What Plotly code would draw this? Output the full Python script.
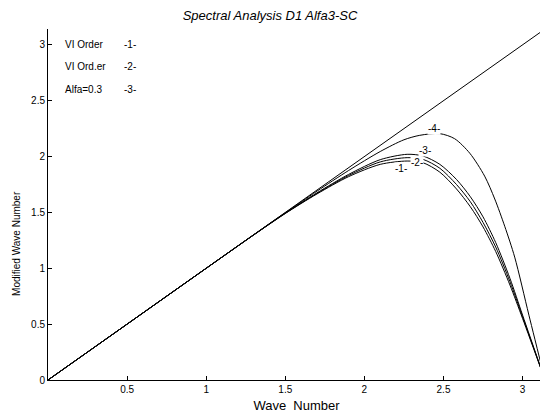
import math
import plotly.graph_objects as go

PI = math.pi

# Exact line
exact_x = [0.0, PI]
exact_y = [0.0, PI]

# Curve -1- (VI Order)
c1_x = [0.0, 0.5, 1.0, 1.3, 1.5, 1.7, 1.9, 2.1, 2.27, 2.37, 2.477, 2.582, 2.67, 2.75, 2.83, 2.92, 3.0, PI]
c1_y = [0.0, 0.5, 1.0, 1.298, 1.49, 1.665, 1.82, 1.93, 1.96, 1.945, 1.86, 1.71, 1.55, 1.37, 1.15, 0.85, 0.55, 0.0]

# Curve -2- (VI Ord.er)
c2_x = [0.0, 0.5, 1.0, 1.3, 1.5, 1.7, 1.9, 2.1, 2.27, 2.37, 2.477, 2.582, 2.67, 2.75, 2.83, 2.92, 3.0, PI]
c2_y = [0.0, 0.5, 1.0, 1.298, 1.492, 1.67, 1.83, 1.952, 1.99, 1.975, 1.895, 1.75, 1.595, 1.41, 1.19, 0.88, 0.565, 0.0]

# Curve -3- (Alfa=0.3)
c3_x = [0.0, 0.5, 1.0, 1.3, 1.5, 1.7, 1.9, 2.1, 2.27, 2.37, 2.477, 2.582, 2.67, 2.75, 2.83, 2.92, 3.0, PI]
c3_y = [0.0, 0.5, 1.0, 1.299, 1.494, 1.675, 1.84, 1.972, 2.02, 2.005, 1.93, 1.795, 1.64, 1.46, 1.23, 0.91, 0.58, 0.0]

# Curve -4-
c4_x = [0.0, 0.5, 1.0, 1.3, 1.5, 1.7, 1.9, 2.1, 2.25, 2.35, 2.476, 2.57, 2.666, 2.76, 2.824, 2.887, 2.95, 3.04, PI]
c4_y = [0.0, 0.5, 1.0, 1.3, 1.497, 1.69, 1.875, 2.045, 2.15, 2.19, 2.205, 2.16, 2.03, 1.825, 1.62, 1.376, 1.1, 0.58, 0.0]

curve_labels = ["-1-", "-2-", "-3-", "-4-"]
label_x = [2.234, 2.333, 2.386, 2.44]
label_y = [1.895, 1.945, 2.058, 2.253]

legend_names = ["VI Order", "VI Ord.er", "Alfa=0.3"]
legend_tags = ["-1-", "-2-", "-3-"]

x_ticks = [0.5, 1, 1.5, 2, 2.5, 3]
y_ticks = [0, 0.5, 1, 1.5, 2, 2.5, 3]

FONT = "Liberation Sans, Arial, sans-serif"

# The page body has an 8px margin, so the figure is sized to fit the 548x414 window.
W, H = 540, 406
ML, MR, MT, MB = 40, 3, 21, 34
PH = H - MT - MB

fig = go.Figure()
fig.add_trace(go.Scatter(x=exact_x, y=exact_y, mode="lines", line=dict(color="black", width=1)))
for xs, ys in [(c1_x, c1_y), (c2_x, c2_y), (c3_x, c3_y), (c4_x, c4_y)]:
    fig.add_trace(go.Scatter(x=xs, y=ys, mode="lines",
                             line=dict(color="black", width=1, shape="spline", smoothing=0.8)))

annotations = []
for t, lx, ly in zip(curve_labels, label_x, label_y):
    annotations.append(dict(x=lx, y=ly, xref="x", yref="y", text=t, showarrow=False,
                            font=dict(size=10, color="black", family=FONT),
                            bgcolor="white", borderpad=0))

leg_y_px = [44.5, 66.5, 89.5]  # page pixels
for name, tag, py in zip(legend_names, legend_tags, leg_y_px):
    yp = 1 - (py - 8 - MT) / PH
    annotations.append(dict(x=0.03, y=yp, xref="paper", yref="paper", text=name,
                            showarrow=False, xanchor="left", yanchor="middle",
                            font=dict(size=10, color="black", family=FONT)))
    annotations.append(dict(x=0.148, y=yp, xref="paper", yref="paper", text=tag,
                            showarrow=False, xanchor="left", yanchor="middle",
                            font=dict(size=10, color="black", family=FONT)))

# y-axis title
annotations.append(dict(x=-0.062, y=1.22, xref="paper", yref="y", text="Modified Wave Number",
                        showarrow=False, textangle=-90, xanchor="center", yanchor="middle",
                        font=dict(size=10, color="black", family=FONT)))

fig.update_layout(
    width=W, height=H,
    margin=dict(l=ML, r=MR, t=MT, b=MB),
    paper_bgcolor="white", plot_bgcolor="white",
    showlegend=False,
    font=dict(family=FONT, size=10, color="black"),
    title=dict(text="<i>Spectral Analysis D1 Alfa3-SC</i>", x=262 / W, xanchor="center",
               y=1 - 7 / H, yanchor="middle", font=dict(size=13, family=FONT, color="black")),
    annotations=annotations,
)

fig.update_xaxes(range=[0, PI], tickvals=x_ticks, ticktext=[str(v) for v in x_ticks],
                 ticks="inside", ticklen=4, tickcolor="black", showline=True, linecolor="black",
                 linewidth=1, showgrid=False, zeroline=False, mirror=False, automargin=False,
                 tickfont=dict(size=10, family=FONT),
                 title=dict(text="Wave\u00a0 Number", font=dict(size=13, family=FONT), standoff=6))
fig.update_yaxes(range=[0, PI], tickvals=y_ticks, ticktext=[("%g" % v) for v in y_ticks],
                 ticks="inside", ticklen=4, tickcolor="black", showline=True, linecolor="black",
                 linewidth=1, showgrid=False, zeroline=False, mirror=False, automargin=False,
                 tickfont=dict(size=10, family=FONT))

fig.write_html("out.html")
